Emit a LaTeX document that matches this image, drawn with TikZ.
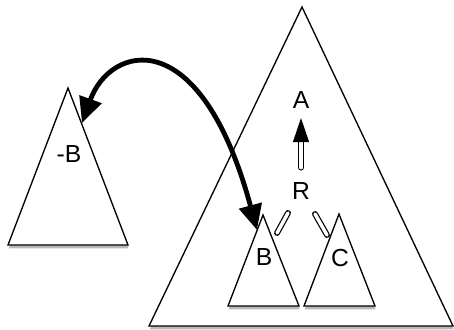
\documentclass[tikz,border=0pt]{standalone}
\usepackage{fontspec}
\setmainfont{Liberation Sans}
\usetikzlibrary{arrows.meta,shadows}

\tikzset{
  tree/.style={draw,line width=1pt,fill=white,drop shadow={shadow xshift=0.5pt,shadow yshift=-2.6pt,opacity=0.55}},
  lbl/.style={inner sep=0pt,font=\fontsize{18.5}{22}\selectfont},
  hollow/.style={double,double distance=2.6pt,line width=0.9pt,line cap=round},
}

\begin{document}
\begin{tikzpicture}[x=0.75pt,y=-0.75pt]
\useasboundingbox (0,0) rectangle (454,329);
% Trees
\draw[tree] (149,326) -- (302,7) -- (453,326) -- cycle;
\draw[tree] (8,245) -- (68,88) -- (128,245) -- cycle;
\draw[tree] (228,306) -- (263,215) -- (299,306) -- cycle;
\draw[tree] (304,306) -- (339,214) -- (375,306) -- cycle;

% Labels
\node[lbl] (A) at (301,100) {A};
\node[lbl] (R) at (301,191) {R};
\node[lbl] (B) at (264,257) {B};
\node[lbl] (C) at (340,258) {C};
\node[lbl] (nB) at (69,154) {-B};

% Points on the tree edges
\coordinate (nBside) at (82,123);
\coordinate (Bside) at (257,230);
\coordinate (rb1) at (288,213);
\coordinate (rb2) at (277,233);
\coordinate (rc1) at (315,214);
\coordinate (rc2) at (327,235);

% Edges
\draw[hollow,shorten <=11pt,shorten >=7pt,-{Triangle[length=18pt,width=12pt]}] (R) -- (A);
\draw[hollow] (rb1) -- (rb2);
\draw[hollow] (rc1) -- (rc2);
\draw[line width=3.6pt,{Triangle[length=19pt,width=17pt]}-{Triangle[length=19pt,width=17pt]}]
  (nBside) .. controls (110,45) and (200,20) .. (Bside);
\end{tikzpicture}
\end{document}
